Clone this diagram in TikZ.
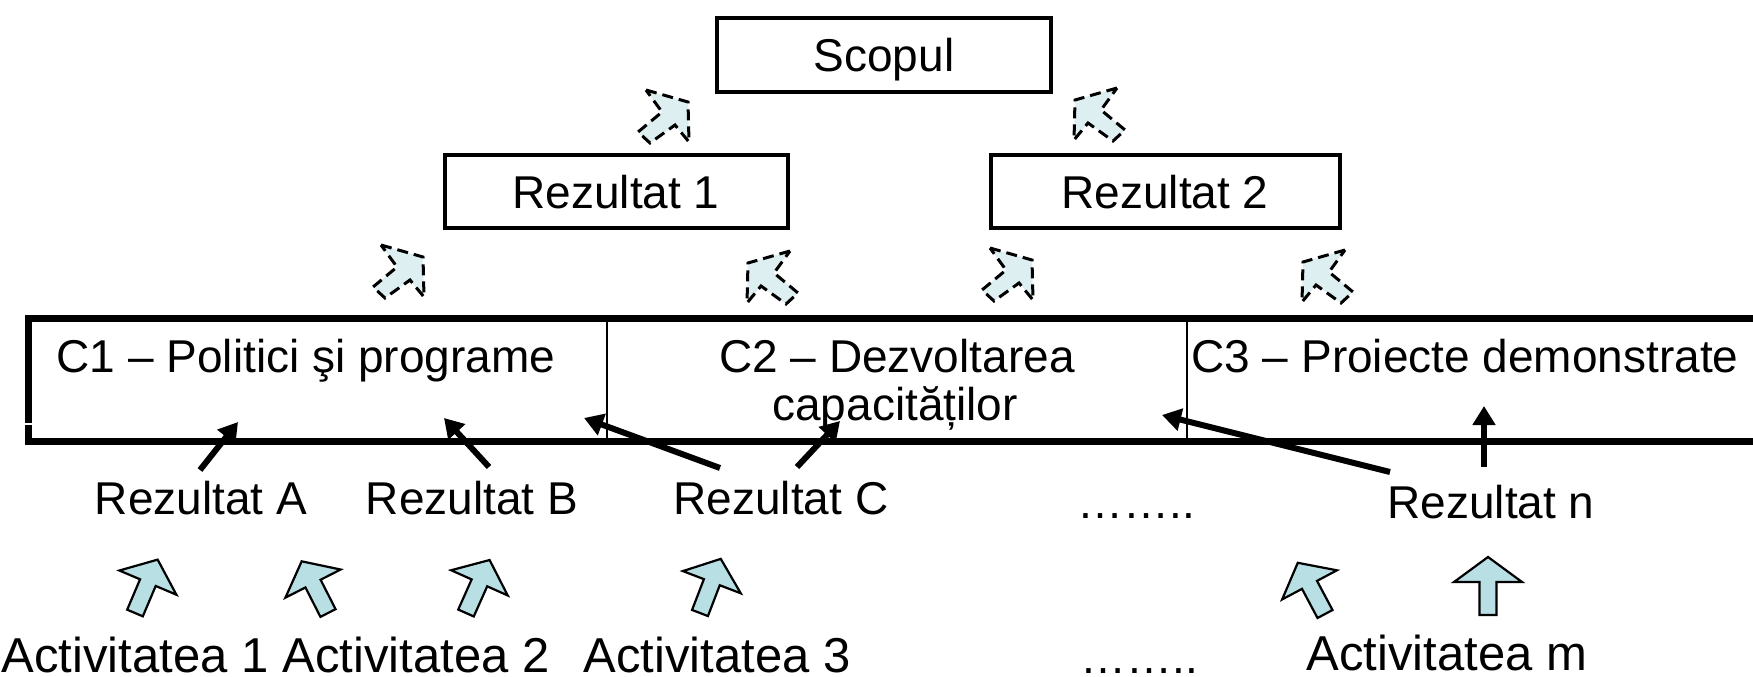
\documentclass[tikz,border=0pt]{standalone}
\usepackage{fontspec}
\setmainfont{Liberation Sans}
\usetikzlibrary{arrows.meta}
\definecolor{dashfill}{RGB}{221,239,241}
\definecolor{blockfill}{RGB}{184,224,228}
\tikzset{
  lbl/.style={anchor=base, inner sep=0pt, font=\fontsize{46}{52}\selectfont},
  lblbig/.style={anchor=base, inner sep=0pt, font=\fontsize{49}{55}\selectfont},
  goalbox/.style={draw, line width=4pt, inner sep=0pt, text height=33pt, text depth=0pt,
    minimum height=73pt, font=\fontsize{46}{52}\selectfont},
  bigbox/.style={line width=7pt, line join=miter},
  divider/.style={line width=2.5pt},
  conn/.style={line width=6pt, -{Triangle[length=19pt,width=22pt]}},
  dasharr/.style={draw, fill=dashfill, line width=3pt, dash pattern=on 11pt off 6pt},
  blockarr/.style={draw, fill=blockfill, line width=2.2pt, line join=miter}
}
\newcommand\mydasharrow[3]{%
  \begin{scope}[shift={(#1,#2)}, xscale=#3]
    \draw[dasharr] (21,5) -- (63,17) -- (64,57) -- (50,40) -- (25,58) -- (13,47) -- (37,27) -- cycle;
  \end{scope}}
\newcommand\myblockarrow[4]{%
  \begin{scope}[shift={(#1,#2)}, rotate=#3]
    \draw[blockarr] (0,-8.5) -- (33,-8.5) -- (33,-#4) -- (58,0) -- (33,#4) -- (33,8.5) -- (0,8.5) -- cycle;
  \end{scope}}
\begin{document}
\begin{tikzpicture}[x=1pt, y=-1pt]
\useasboundingbox (0,0) rectangle (1753,677);

% top boxes
\node[goalbox, minimum width=334pt] (scop) at (884,55) {Scopul};
\node[goalbox, minimum width=343pt] (r1) at (616,191.5) {Rezultat 1};
\node[goalbox, minimum width=349pt] (r2) at (1165,191.5) {Rezultat 2};

% dashed arrows
\mydasharrow{625}{85}{1}
\mydasharrow{1138}{83}{-1}
\mydasharrow{360}{240}{1}
\mydasharrow{811}{246}{-1}
\mydasharrow{969}{243}{1}
\mydasharrow{1366}{245}{-1}

% component band
\draw[bigbox] (1753,318.5) -- (28.5,318.5) -- (28.5,441) -- (1753,441);
\draw[divider] (607,318.5) -- (607,441);
\draw[divider] (1187,318.5) -- (1187,441);
\draw[white, line width=2pt] (24,424) -- (33,424);

\node[lbl] (c1) at (306,372) {C1 – Politici şi programe};
\node[lbl] (c2) at (897,372) {C2 – Dezvoltarea};
\node[lbl] (c2b) at (895,420) {capacităților};
\node[lbl] (c3) at (1465,372) {C3 – Proiecte demonstrate};

% results
\node[lbl] (ra) at (201,514) {Rezultat A};
\node[lbl] (rb) at (472,514) {Rezultat B};
\node[lbl] (rc) at (781,514) {Rezultat C};
\node[lbl] (dots1) at (1136,518) {……..};
\node[lbl] (rn) at (1491,518) {Rezultat n};

% activities
\node[lblbig] (a1) at (135,672) {Activitatea 1};
\node[lblbig] (a2) at (416,672) {Activitatea 2};
\node[lblbig] (a3) at (717,672) {Activitatea 3};
\node[lbl] (dots2) at (1139,673) {……..};
\node[lblbig] (am) at (1447,670) {Activitatea m};

% black connectors
\coordinate (s1) at (200,470); \coordinate (e1) at (238,422);
\coordinate (s2) at (489,467); \coordinate (e2) at (444,418);
\coordinate (s3) at (720,468); \coordinate (e3) at (584,418);
\coordinate (s4) at (797,467); \coordinate (e4) at (840,421);
\coordinate (s5) at (1390,472); \coordinate (e5) at (1162,415);
\coordinate (s6) at (1484,467); \coordinate (e6) at (1484,406);
\draw[conn] (s1) -- (e1);
\draw[conn] (s2) -- (e2);
\draw[conn] (s3) -- (e3);
\draw[conn] (s4) -- (e4);
\draw[conn] (s5) -- (e5);
\draw[conn] (s6) -- (e6);

% block arrows
\myblockarrow{135}{613}{67}{31}
\myblockarrow{328}{613}{117}{31}
\myblockarrow{466}{613}{66}{31}
\myblockarrow{700}{613}{69}{31}
\myblockarrow{1325}{614}{118}{31}
\myblockarrow{1488}{615}{90}{34}
\end{tikzpicture}
\end{document}
